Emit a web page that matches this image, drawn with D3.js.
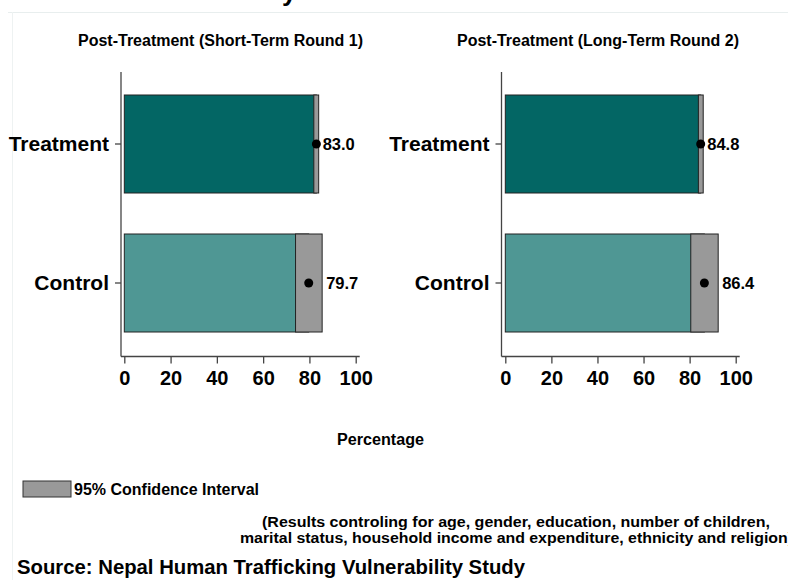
<!DOCTYPE html>
<html><head><meta charset="utf-8">
<script src="https://cdn.jsdelivr.net/npm/d3@7"></script>
<style>body{margin:0;background:#fff}svg{display:block}</style>
</head><body>
<svg id="c" width="788" height="580"></svg>
<script>
const categories = ["Treatment", "Control"];
const panelTitles = ["Post-Treatment (Short-Term Round 1)", "Post-Treatment (Long-Term Round 2)"];
const shortMean = [83.0, 79.7];
const shortLow  = [81.9, 74.0];
const shortHigh = [84.0, 85.5];
const longMean  = [84.8, 86.4];
const longLow   = [83.8, 80.5];
const longHigh  = [85.9, 92.4];
const xTicks = [0, 20, 40, 60, 80, 100];
const barColors = ["#036664", "#4F9794"];

const svg = d3.select("#c");
const FONT = "'Liberation Sans',Arial,sans-serif";

function fit(sel, len) {
  return sel.attr("textLength", len).attr("lengthAdjust", "spacingAndGlyphs");
}

// faint frame
svg.append("line").attr("x1", 8).attr("x2", 788).attr("y1", 12.5).attr("y2", 12.5).attr("stroke", "#e8eeee");
svg.append("line").attr("x1", 12.5).attr("x2", 12.5).attr("y1", 12).attr("y2", 580).attr("stroke", "#eef2f2");
// clipped title descender (the chart title sits above the visible area)
svg.append("text").attr("x", 282).attr("y", 1).attr("font-family", FONT).attr("font-weight", "bold")
  .attr("font-size", 26).attr("fill", "#000").text("y");

const panels = [
  {title: panelTitles[0], mean: shortMean, lo: shortLow, hi: shortHigh, r: [124.3, 355.7], axisX: 121, titleX: 78, titleW: 285},
  {title: panelTitles[1], mean: longMean, lo: longLow, hi: longHigh, r: [505.3, 735.7], axisX: 501.5, titleX: 457, titleW: 282}
];

const y = d3.scalePoint().domain(categories).range([144, 283]);
const half = 49;

panels.forEach(p => {
  const g = svg.append("g");
  const x = d3.scaleLinear().domain([0, 100]).range(p.r);
  fit(g.append("text").attr("x", p.titleX).attr("y", 46)
    .attr("font-family", FONT).attr("font-weight", "bold").attr("font-size", 16)
    .text(p.title), p.titleW);
  categories.forEach((c, i) => {
    g.append("rect").attr("x", x(0)).attr("y", y(c) - half)
      .attr("width", x(p.mean[i]) - x(0)).attr("height", 2 * half)
      .attr("fill", barColors[i]).attr("stroke", "#222").attr("stroke-width", 1);
    g.append("rect").attr("x", x(p.lo[i])).attr("y", y(c) - half)
      .attr("width", x(p.hi[i]) - x(p.lo[i])).attr("height", 2 * half)
      .attr("fill", "#999999").attr("stroke", "#222").attr("stroke-width", 1);
    g.append("circle").attr("cx", x(p.mean[i])).attr("cy", y(c)).attr("r", 4.5).attr("fill", "#000");
    g.append("text").attr("x", x(p.hi[i]) + 4).attr("y", y(c) + 6)
      .attr("font-family", FONT).attr("font-weight", "bold").attr("font-size", 16.5)
      .text(p.mean[i].toFixed(1));
  });
  g.append("line").attr("x1", p.axisX).attr("x2", p.axisX).attr("y1", 72).attr("y2", 356.5)
    .attr("stroke", "#444").attr("stroke-width", 1.3);
  categories.forEach(c => {
    g.append("line").attr("x1", p.axisX - 6).attr("x2", p.axisX).attr("y1", y(c)).attr("y2", y(c))
      .attr("stroke", "#444").attr("stroke-width", 1.3);
    g.append("text").attr("x", p.axisX - 12).attr("y", y(c) + 7).attr("text-anchor", "end")
      .attr("font-family", FONT).attr("font-weight", "bold").attr("font-size", 21).text(c);
  });
  const ax = g.append("g").attr("transform", "translate(0,356.5)")
    .call(d3.axisBottom(x).tickValues(xTicks).tickSize(7).tickPadding(7).tickFormat(d3.format("d")));
  ax.select(".domain").attr("d", `M${p.axisX},0H${p.r[1] + 4}`).attr("stroke", "#444").attr("stroke-width", 1.3);
  ax.selectAll(".tick line").attr("stroke", "#444").attr("stroke-width", 1.3);
  ax.selectAll(".tick text").attr("font-family", FONT).attr("font-weight", "bold")
    .attr("font-size", 20).attr("fill", "#000");
});

fit(svg.append("text").attr("x", 337).attr("y", 445)
  .attr("font-family", FONT).attr("font-weight", "bold").attr("font-size", 16).text("Percentage"), 87);

svg.append("rect").attr("x", 23).attr("y", 481).attr("width", 48).attr("height", 16)
  .attr("fill", "#999999").attr("stroke", "#333");
fit(svg.append("text").attr("x", 74).attr("y", 495).attr("font-family", FONT).attr("font-weight", "bold")
  .attr("font-size", 16).text("95% Confidence Interval"), 185);

const note = ["(Results controling for age, gender, education, number of children,",
  "marital status, household income and expenditure, ethnicity and religion)"];
const noteX = [262, 240], noteW = [508, 553];
note.forEach((t, i) => {
  fit(svg.append("text").attr("x", noteX[i]).attr("y", 527 + i * 16)
    .attr("font-family", FONT).attr("font-weight", "bold").attr("font-size", 14.5).text(t), noteW[i]);
});

fit(svg.append("text").attr("x", 17).attr("y", 574).attr("font-family", FONT).attr("font-weight", "bold")
  .attr("font-size", 20.5).text("Source: Nepal Human Trafficking Vulnerability Study"), 508);
</script>
</body></html>
